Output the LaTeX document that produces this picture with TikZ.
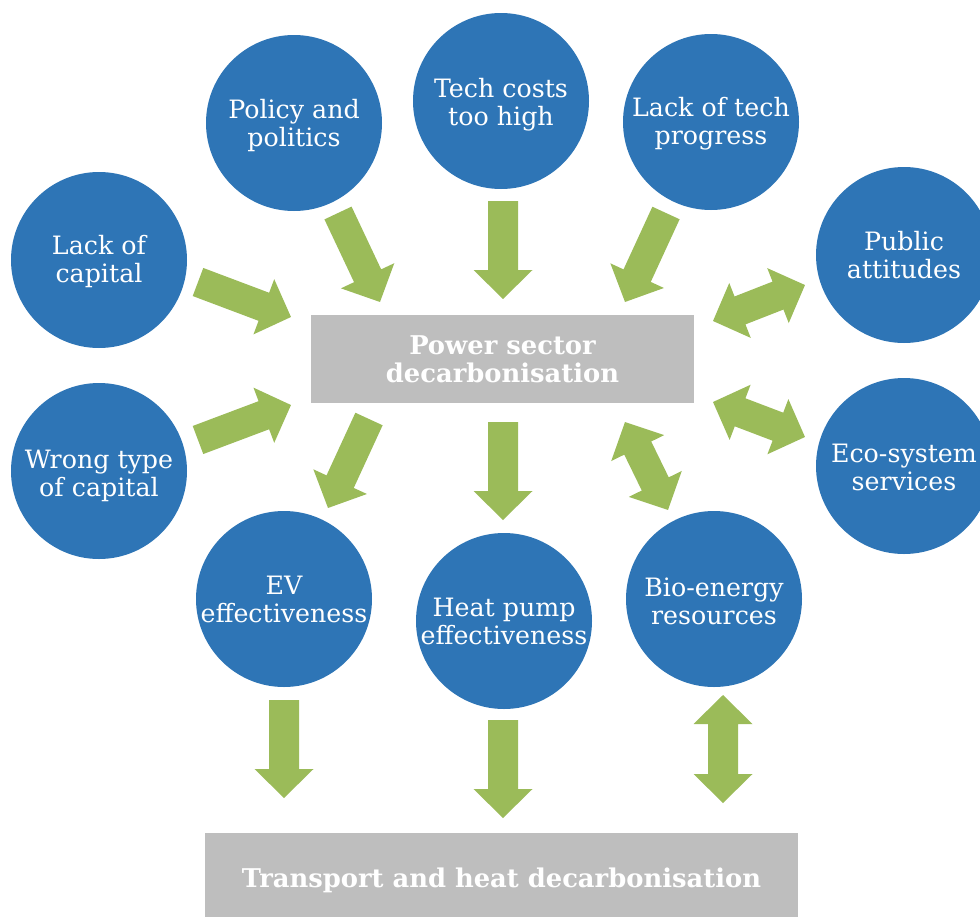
\documentclass[tikz,border=0pt]{standalone}
\usepackage{fontspec}
\setmainfont{DejaVu Serif}
\usetikzlibrary{calc}
\definecolor{circblue}{RGB}{46,117,182}
\definecolor{boxgrey}{RGB}{190,190,190}
\definecolor{arrgreen}{RGB}{155,187,89}
\newcommand\arrowsetup[2]{%
  \pgfpointdiff{\pgfpointanchor{#1}{center}}{\pgfpointanchor{#2}{center}}%
  \pgfgetlastxy{\ardx}{\ardy}%
  \pgfmathsetmacro\arang{atan2(\ardy,\ardx)}%
  \pgfmathsetmacro\arlen{veclen(\ardx,\ardy)}%
}
\newcommand\singlearrow[2]{\arrowsetup{#1}{#2}%
  \fill[arrgreen,shift={(#1)},rotate=\arang]
    (0,-15) -- (\arlen-29,-15) -- (\arlen-29,-29.5) -- (\arlen,0)
    -- (\arlen-29,29.5) -- (\arlen-29,15) -- (0,15) -- cycle;}
\newcommand\doublearrow[2]{\arrowsetup{#1}{#2}%
  \fill[arrgreen,shift={(#1)},rotate=\arang]
    (0,0) -- (29,29.5) -- (29,15) -- (\arlen-29,15) -- (\arlen-29,29.5)
    -- (\arlen,0) -- (\arlen-29,-29.5) -- (\arlen-29,-15) -- (29,-15)
    -- (29,-29.5) -- cycle;}
\begin{document}
\begin{tikzpicture}[x=1pt,y=-1pt,
  circ/.style={circle, fill=circblue, minimum size=176pt, inner sep=0pt},
  ctext/.style={text=white, align=center, inner sep=0pt,
    font=\fontsize{25.3}{28}\selectfont},
  pbox/.style={fill=boxgrey, text=white, align=center, inner sep=0pt,
    font=\bfseries\fontsize{25.8}{28}\selectfont}]
\useasboundingbox (0,0) rectangle (980,916);
\clip (0,0) rectangle (980,916);
% circles
\node[circ] (cap)   at (99,260)  {};
\node[circ] (wrong) at (99,471)  {};
\node[circ] (pol)   at (294,123) {};
\node[circ] (cost)  at (501,101) {};
\node[circ] (prog)  at (711,122) {};
\node[circ] (pub)   at (904,255) {};
\node[circ] (eco)   at (904,466) {};
\node[circ] (ev)    at (284,599) {};
\node[circ] (heat)  at (504,621) {};
\node[circ] (bio)   at (714,599) {};
% circle texts
\node[ctext] (capT)   at ([yshift=-2pt]cap.center)   {Lack of\\capital};
\node[ctext] (wrongT) at ([yshift=-5pt]wrong.center) {Wrong type\\of capital};
\node[ctext] (polT)   at ([yshift=-3pt]pol.center)   {Policy and\\politics};
\node[ctext] (costT)  at ([yshift=-4pt]cost.center)  {Tech costs\\too high};
\node[ctext] (progT)  at ([yshift=-2pt]prog.center)  {Lack of tech\\progress};
\node[ctext] (pubT)   at (pub.center)                {Public\\attitudes};
\node[ctext] (ecoT)   at ([yshift=-1pt]eco.center)   {Eco-system\\services};
\node[ctext] (evT)    at (ev.center)                 {EV\\effectiveness};
\node[ctext] (heatT)  at (heat.center)               {Heat pump\\effectiveness};
\node[ctext] (bioT)   at ([yshift=-2pt]bio.center)   {Bio-energy\\resources};
% boxes
\node[pbox, minimum width=383pt, minimum height=88pt] (ps) at (502.5,359)
  {Power sector\\decarbonisation};
\node[pbox, minimum width=593pt, minimum height=94pt] (tr) at (501.5,880)
  {Transport and heat decarbonisation};
% arrow end points
\coordinate (a1s) at (198,282); \coordinate (a1e) at (291,317);
\coordinate (a2s) at (198,440); \coordinate (a2e) at (291,405);
\coordinate (a3s) at (338,213); \coordinate (a3e) at (380,302);
\coordinate (a4s) at (503,201); \coordinate (a4e) at (503,299);
\coordinate (a5s) at (666,213); \coordinate (a5e) at (625,302);
\coordinate (d1s) at (713,321); \coordinate (d1e) at (805,285);
\coordinate (d2s) at (713,402); \coordinate (d2e) at (805,437);
\coordinate (d3s) at (625,422); \coordinate (d3e) at (668,510);
\coordinate (a6s) at (369,419); \coordinate (a6e) at (328,508);
\coordinate (a7s) at (503,422); \coordinate (a7e) at (503,520);
\coordinate (a8s) at (284,700); \coordinate (a8e) at (284,798);
\coordinate (a9s) at (503,720); \coordinate (a9e) at (503,818);
\coordinate (d4s) at (723,695); \coordinate (d4e) at (723,803);
% arrows
\singlearrow{a1s}{a1e}
\singlearrow{a2s}{a2e}
\singlearrow{a3s}{a3e}
\singlearrow{a4s}{a4e}
\singlearrow{a5s}{a5e}
\doublearrow{d1s}{d1e}
\doublearrow{d2s}{d2e}
\doublearrow{d3s}{d3e}
\singlearrow{a6s}{a6e}
\singlearrow{a7s}{a7e}
\singlearrow{a8s}{a8e}
\singlearrow{a9s}{a9e}
\doublearrow{d4s}{d4e}
\end{tikzpicture}
\end{document}
